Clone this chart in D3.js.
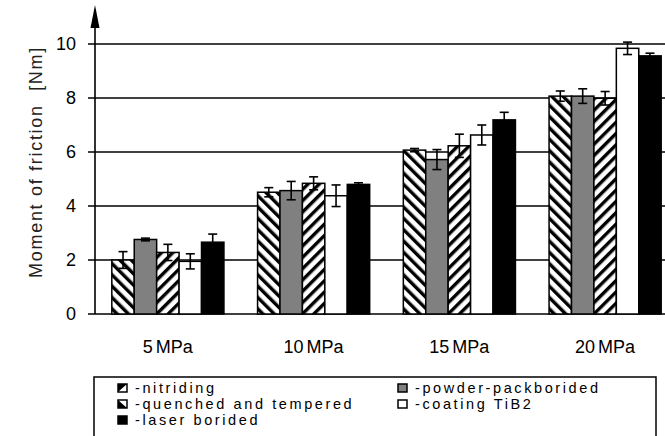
<!DOCTYPE html>
<html>
<head>
  <meta charset="utf-8">
  <script src="https://d3js.org/d3.v7.min.js"></script>
  <style>
  body { margin: 0; background: #fff; }
  text { font-family: "Liberation Sans", Arial, sans-serif; fill: #000; }
  </style>
</head>
<body>
<div id="chart"></div>
<script>
// data
var categories = ["5 MPa", "10 MPa", "15 MPa", "20 MPa"];
var seriesNames = ["nitriding", "powder", "quenched", "tib2", "laser"];
var legendLabels = ["-nitriding", "-powder-packborided", "-quenched and tempered", "-coating TiB2", "-laser borided"];
var nitriding = [2.0, 4.51, 6.07, 8.07];
var nitridingErr = [0.31, 0.17, 0.06, 0.19];
var powder = [2.76, 4.57, 5.72, 8.07];
var powderErr = [0.05, 0.34, 0.37, 0.27];
var quenched = [2.28, 4.84, 6.23, 7.99];
var quenchedErr = [0.3, 0.24, 0.43, 0.25];
var tib2 = [1.95, 4.38, 6.63, 9.84];
var tib2Err = [0.28, 0.4, 0.37, 0.23];
var laser = [2.66, 4.80, 7.19, 9.56];
var laserErr = [0.3, 0.06, 0.28, 0.1];
var yTicks = [0, 2, 4, 6, 8, 10];

var values = { nitriding: nitriding, powder: powder, quenched: quenched, tib2: tib2, laser: laser };
var errors = { nitriding: nitridingErr, powder: powderErr, quenched: quenchedErr, tib2: tib2Err, laser: laserErr };
var fills = { nitriding: "url(#hatchBack)", powder: "#808080", quenched: "url(#hatchFwd)", tib2: "#fff", laser: "#000" };

var width = 665, height = 436;
var svg = d3.select("#chart").append("svg")
  .attr("width", width)
  .attr("height", height);

// hatch patterns
var defs = svg.append("defs");
defs.append("pattern")
  .attr("id", "hatchBack")
  .attr("patternUnits", "userSpaceOnUse")
  .attr("width", 8).attr("height", 8)
  .attr("patternTransform", "rotate(-45)")
  .call(function(p) {
    p.append("rect").attr("width", 8).attr("height", 8).attr("fill", "#fff");
    p.append("rect").attr("width", 3.4).attr("height", 8).attr("fill", "#000");
  });
defs.append("pattern")
  .attr("id", "hatchFwd")
  .attr("patternUnits", "userSpaceOnUse")
  .attr("width", 8).attr("height", 8)
  .attr("patternTransform", "rotate(45)")
  .call(function(p) {
    p.append("rect").attr("width", 8).attr("height", 8).attr("fill", "#fff");
    p.append("rect").attr("width", 3.4).attr("height", 8).attr("fill", "#000");
  });

var x0 = d3.scaleBand().domain(categories).range([95, 678]);
var x1 = d3.scaleBand().domain(seriesNames).range([0, x0.bandwidth()]).paddingOuter(0.75);
var y = d3.scaleLinear().domain([0, 10]).range([314, 44]);

// grid lines
svg.append("g")
  .selectAll("line")
  .data(yTicks)
  .enter().append("line")
  .attr("x1", 88).attr("x2", 678)
  .attr("y1", function(d) { return y(d); })
  .attr("y2", function(d) { return y(d); })
  .attr("stroke", "#000")
  .attr("stroke-width", 1.6);

// tick labels
svg.append("g")
  .selectAll("text")
  .data(yTicks)
  .enter().append("text")
  .attr("x", 76)
  .attr("y", function(d) { return y(d); })
  .attr("dy", "0.36em")
  .attr("text-anchor", "end")
  .style("font-size", "18px")
  .text(function(d) { return d; });

// bars
var groups = svg.append("g")
  .selectAll("g")
  .data(categories)
  .enter().append("g")
  .attr("transform", function(d) { return "translate(" + x0(d) + ",0)"; });

groups.selectAll("rect")
  .data(function(c, i) { return seriesNames.map(function(s) { return { s: s, v: values[s][i], e: errors[s][i] }; }); })
  .enter().append("rect")
  .attr("x", function(d) { return x1(d.s); })
  .attr("width", x1.bandwidth())
  .attr("y", function(d) { return y(d.v); })
  .attr("height", function(d) { return y(0) - y(d.v); })
  .attr("fill", function(d) { return fills[d.s]; })
  .attr("stroke", "#000")
  .attr("stroke-width", 1.5);

// error bars
var eb = groups.selectAll("g.err")
  .data(function(c, i) { return seriesNames.map(function(s) { return { s: s, v: values[s][i], e: errors[s][i] }; }); })
  .enter().append("g")
  .attr("class", "err")
  .attr("stroke", "#000")
  .attr("stroke-width", 1.6);
eb.append("line")
  .attr("x1", function(d) { return x1(d.s) + x1.bandwidth() / 2; })
  .attr("x2", function(d) { return x1(d.s) + x1.bandwidth() / 2; })
  .attr("y1", function(d) { return y(d.v + d.e); })
  .attr("y2", function(d) { return y(d.v - d.e); });
eb.selectAll("line.cap")
  .data(function(d) { return [{ d: d, v: d.v + d.e }, { d: d, v: d.v - d.e }]; })
  .enter().append("line")
  .attr("class", "cap")
  .attr("x1", function(c) { return x1(c.d.s) + x1.bandwidth() / 2 - 4.5; })
  .attr("x2", function(c) { return x1(c.d.s) + x1.bandwidth() / 2 + 4.5; })
  .attr("y1", function(c) { return y(c.v); })
  .attr("y2", function(c) { return y(c.v); });

// y axis with arrow
svg.append("line")
  .attr("x1", 95).attr("x2", 95)
  .attr("y1", y(0)).attr("y2", 20)
  .attr("stroke", "#000")
  .attr("stroke-width", 1.6);
svg.append("path")
  .attr("d", "M95,5 L90.5,28 L99.5,28 Z")
  .attr("fill", "#000");

// category labels
svg.append("g")
  .selectAll("text")
  .data(categories)
  .enter().append("text")
  .attr("x", function(d) { return x0(d) + x0.bandwidth() / 2; })
  .attr("y", 353)
  .attr("text-anchor", "middle")
  .style("font-size", "18px")
  .style("word-spacing", "-2px")
  .text(function(d) { return d; });

// y axis title
svg.append("text")
  .attr("transform", "translate(42,162) rotate(-90)")
  .attr("text-anchor", "middle")
  .style("font-size", "18px")
  .style("letter-spacing", "1.7px")
  .style("white-space", "pre")
  .style("fill", "#222")
  .text("Moment of friction  [Nm]");

// legend
svg.append("rect")
  .attr("x", 94).attr("y", 377)
  .attr("width", 562).attr("height", 80)
  .attr("fill", "#fff")
  .attr("stroke", "#000")
  .attr("stroke-width", 1.5);

var legendPos = [[118, 393], [398, 393], [118, 409], [398, 409], [118, 425]];
var items = svg.append("g")
  .selectAll("g")
  .data(seriesNames)
  .enter().append("g")
  .attr("transform", function(d, i) { return "translate(" + legendPos[i][0] + "," + legendPos[i][1] + ")"; });

items.append("rect")
  .attr("x", 0).attr("y", -9)
  .attr("width", 9).attr("height", 8)
  .attr("fill", function(d) { return d == "powder" ? "#808080" : (d == "laser" ? "#000" : "#fff"); })
  .attr("stroke", "#000")
  .attr("stroke-width", 1.5);
items.filter(function(d) { return d == "nitriding"; })
  .append("path").attr("d", "M0,-9 L9,-9 L0,-1 Z").attr("fill", "#000");
items.filter(function(d) { return d == "quenched"; })
  .append("path").attr("d", "M0,-1 L9,-1 L0,-9 Z").attr("fill", "#000");

items.append("text")
  .attr("x", 17)
  .attr("y", 0)
  .style("font-size", "14.5px")
  .style("letter-spacing", "2.6px")
  .text(function(d, i) { return legendLabels[i]; });
</script>
</body>
</html>
